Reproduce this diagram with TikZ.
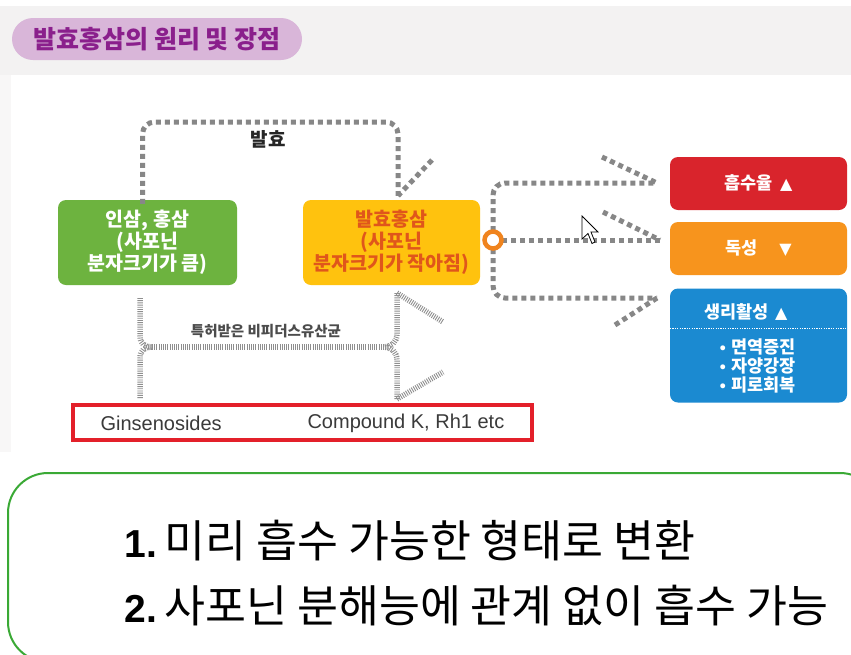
\documentclass[tikz,border=0pt]{standalone}
\usepackage{fontspec}
\setmainfont{Noto Sans CJK KR}
\newfontfamily\lat{Liberation Sans}
\newfontfamily\sym{DejaVu Sans}
\usetikzlibrary{calc}
\definecolor{bandgray}{HTML}{F3F2F2}
\definecolor{pill}{HTML}{D9B6D9}
\definecolor{pilltext}{HTML}{8A1F8C}
\definecolor{gbox}{HTML}{6DB33F}
\definecolor{ybox}{HTML}{FFC20E}
\definecolor{ytext}{HTML}{E0561B}
\definecolor{rbox}{HTML}{D9242C}
\definecolor{obox}{HTML}{F7941D}
\definecolor{bbox}{HTML}{1B8AD1}
\definecolor{dotgray}{HTML}{878787}
\definecolor{hatchgray}{HTML}{8E8E8E}
\definecolor{hubor}{HTML}{F0841E}
\definecolor{frame}{HTML}{E3202A}
\definecolor{gline}{HTML}{3AA935}
\definecolor{txtgray}{HTML}{3A3A3A}
\tikzset{
  box/.style={rounded corners=8pt, inner sep=0pt, align=center},
  dots/.style={draw=dotgray, line width=5pt, dash pattern=on 5pt off 4pt},
  hatch/.style={draw=hatchgray, line width=5.5pt, dash pattern=on 0.9pt off 1.3pt},
  boxfont/.style={font=\fontsize{19.5}{22}\selectfont\bfseries},
  rfont/.style={font=\fontsize{17.5}{19}\selectfont\bfseries, text=white},
}
\newcommand{\uptri}{{\sym\fontsize{16}{16}\selectfont ▲}}
\newcommand{\dntri}{{\sym\fontsize{16}{16}\selectfont ▼}}
\newcommand{\bul}{{\sym\fontsize{14}{14}\selectfont •}}
\begin{document}
\begin{tikzpicture}[x=1pt,y=-1pt]
\useasboundingbox (0,0) rectangle (851,654);
\clip (0,0) rectangle (851,654);
% background
\fill[white] (0,0) rectangle (851,654);
\fill[bandgray] (0,6) rectangle (851,75);
\fill[bandgray!60] (0,75) rectangle (11,452);
% title pill
\node[fill=pill, rounded corners=21pt, minimum width=290pt, minimum height=42pt, inner sep=0pt,
      text=pilltext, font=\fontsize{25}{28}\selectfont\bfseries] (title) at (157,39) {발효홍삼의 원리 및 장점};
% top connector (fermentation)
\node[box, fill=gbox, minimum width=179pt, minimum height=85pt, text=white, boxfont] (ginseng) at (147.5,242.5)
  {인삼, 홍삼\\(사포닌\\분자크기가 큼)};
\node[box, fill=ybox, minimum width=177pt, minimum height=85pt, text=ytext, boxfont] (fermented) at (391.5,242.5)
  {발효홍삼\\(사포닌\\분자크기가 작아짐)};
\coordinate (ftip) at ([xshift=6.5pt,yshift=4pt]fermented.north);
\draw[dots, rounded corners=12pt] ([xshift=-5pt,yshift=-4pt]ginseng.north) -- (142.5,122) -- (398,122) -- (ftip);
\coordinate (fbarb) at (432,160);
\draw[dots] (fbarb) -- (ftip);
\node[font=\fontsize{19}{20}\selectfont\bfseries, text=black!85] (ferm) at (268,139) {발효};
% right boxes
\node[box, fill=rbox, minimum width=177pt, minimum height=53pt, rfont] (absorb) at (758.5,183.5)
  {흡수율\hspace{7pt}\uptri};
\node[box, fill=obox, minimum width=177pt, minimum height=53pt, rfont] (toxic) at (758.5,248.5)
  {독성\hspace{22pt}\dntri};
\node[box, fill=bbox, minimum width=177pt, minimum height=114pt] (bio) at (758.5,345.5) {};
\node[rfont] (biot) at (746,312) {생리활성\hspace{6pt}\uptri};
\draw[white, line width=1pt, dash pattern=on 1.2pt off 1.2pt] (670,328) -- (847,328);
\node[font=\fontsize{17.5}{19}\selectfont\bfseries, text=white, align=left] (biol) at (757,366)
  {\bul\ 면역증진\\\bul\ 자양강장\\\bul\ 피로회복};
% hub and branches
\coordinate (hubc) at (493,240);
\coordinate (e1) at (657,183);
\coordinate (e2) at (660,240);
\coordinate (e3) at (657,298);
\draw[dots, rounded corners=12pt] (hubc) -- (493,183) -- (e1);
\draw[dots] (hubc) -- (e2);
\draw[dots, rounded corners=12pt] (hubc) -- (493,298) -- (e3);
\coordinate (b1) at (602,157);
\coordinate (b2) at (603,212);
\coordinate (b3) at (615,325);
\draw[dots] (b1) -- (e1);
\draw[dots] (b2) -- (e2);
\draw[dots] (b3) -- (e3);
\node[circle, draw=hubor, line width=4.5pt, fill=white, minimum size=17pt, inner sep=0pt] (hub) at (hubc) {};
% cursor
\draw[black, fill=white, line width=0.8pt, line join=miter]
  (582,216) -- ++(0,23) -- ++(6,-5.5) -- ++(4,10) -- ++(3,-1.5) -- ++(-4,-10) -- ++(7,0) -- cycle;
% hatched bracket (bifidus)
\coordinate (lj) at (152,347);
\coordinate (rj) at (384,347);
\draw[hatch] (140,298) -- (140,336) .. controls (140,344) and (145,347) .. (lj);
\draw[hatch] (140,398) -- (140,358) .. controls (140,350) and (145,347) .. (lj);
\draw[hatch] (lj) -- (rj);
\draw[hatch] (397,293) -- (397,334) .. controls (397,342) and (391,347) .. (rj);
\draw[hatch] (397,399) -- (397,360) .. controls (397,352) and (391,347) .. (rj);
\draw[hatch] (397,293) -- (443,322);
\draw[hatch] (397,399) -- (443,372);
\node[font=\fontsize{14.5}{16}\selectfont\bfseries, text=black!70] (bifid) at (266,331) {특허받은 비피더스유산균};
% red frame
\node[draw=frame, line width=3.5pt, fill=white, minimum width=459pt, minimum height=35pt, inner sep=0pt] (gframe) at (302.5,422.5) {};
\node[anchor=west, font=\lat\fontsize{20}{22}\selectfont, text=txtgray] (gin) at (97,423) {Ginsenosides};
\node[anchor=west, font=\lat\fontsize{20}{22}\selectfont, text=txtgray] (ck) at (304,423) {Compound K, Rh1 etc};
% bottom summary box
\draw[gline, line width=2pt, rounded corners=40pt] (8,473) rectangle (880,662);
\node[anchor=west, font=\fontsize{44.5}{46}\selectfont, text=black] (l1) at (121,541)
  {{\lat\bfseries\fontsize{39}{40}\selectfont 1.}\,미리 흡수 가능한 형태로 변환};
\node[anchor=west, font=\fontsize{44.5}{46}\selectfont, text=black] (l2) at (121,606)
  {{\lat\bfseries\fontsize{39}{40}\selectfont 2.}\,사포닌 분해능에 관계 없이 흡수 가능};
\end{tikzpicture}
\end{document}
